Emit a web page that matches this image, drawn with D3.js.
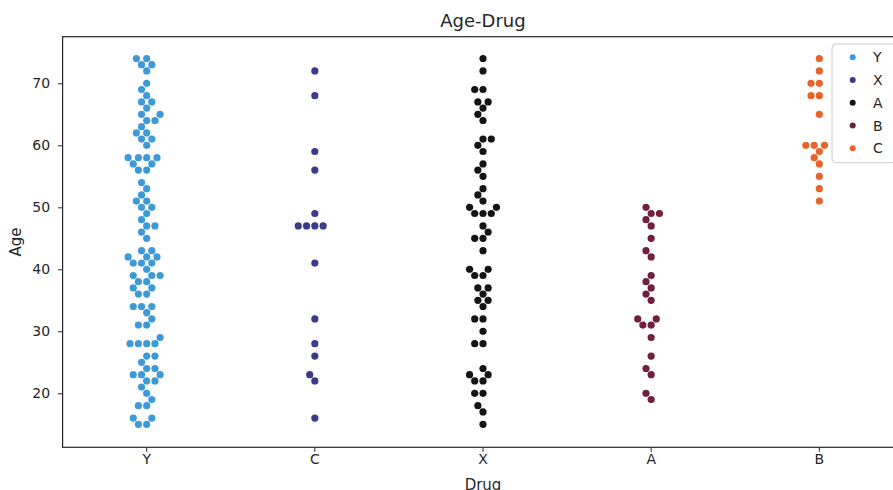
<!DOCTYPE html>
<html>
<head>
<meta charset="utf-8">
<script src="https://cdn.jsdelivr.net/npm/d3@7"></script>
<style>
  html, body { margin: 0; padding: 0; background: #ffffff; }
  text { font-family: "DejaVu Sans", sans-serif; fill: #262626; }
</style>
</head>
<body>
<svg id="chart" width="893" height="490"></svg>
<script>
// Drug categories along the x axis, in plotting order
const drugs = ["Y", "C", "X", "A", "B"];
// Hue legend entries and the palette (icefire, 5 steps)
const legendLabels = ["Y", "X", "A", "B", "C"];
const palette = ["#3e9ad6", "#3d3a8a", "#141414", "#711f3e", "#e8622b"];
const yTickValues = [20, 30, 40, 50, 60, 70];

// Patient ages for each drug group
const agesY = [74, 74, 73, 73, 72, 70, 69, 68, 67, 67, 66, 65, 65, 64, 64, 63, 62, 62, 61, 61,
  60, 58, 58, 58, 58, 57, 57, 56, 56, 54, 53, 52, 51, 51, 50, 50, 49, 48, 47, 47, 46, 45,
  43, 43, 42, 42, 42, 41, 41, 41, 40, 39, 39, 39, 38, 38, 37, 37, 36, 36, 34, 34, 34, 33,
  32, 31, 31, 29, 28, 28, 28, 28, 26, 26, 25, 24, 24, 23, 23, 23, 22, 22, 21, 20, 19, 18,
  18, 16, 16, 15, 15];
const agesC = [72, 68, 59, 56, 49, 47, 47, 47, 47, 41, 32, 28, 26, 23, 22, 16];
const agesX = [74, 72, 69, 69, 67, 67, 66, 65, 64, 61, 61, 60, 59, 57, 56, 55, 53, 52, 51,
  50, 50, 49, 49, 49, 47, 46, 45, 45, 43, 40, 40, 39, 39, 37, 37, 36, 35, 35, 34, 32, 32,
  30, 28, 28, 24, 23, 23, 22, 22, 20, 20, 18, 17, 15];
const agesA = [50, 49, 49, 48, 47, 45, 43, 42, 39, 38, 37, 36, 35, 32, 32, 31, 31, 29, 26,
  24, 23, 20, 19];
const agesB = [74, 72, 70, 70, 68, 68, 65, 60, 60, 60, 59, 58, 57, 55, 53, 51];

const groups = [agesY, agesC, agesX, agesA, agesB];

const svg = d3.select("#chart");

// Plot frame
const frameLeft = 62.6, frameRight = 903.4, frameTop = 36.7, frameBottom = 447.3;

const x = d3.scaleBand().domain(drugs).range([frameLeft, frameRight]).paddingInner(0).paddingOuter(0);
const y = d3.scaleLinear().domain([11.29, 77.52]).range([frameBottom, frameTop]);

// Marker geometry: drawn radius and collision radius used by the swarm layout
const drawR = 3.6;
const hitR = 3.95;

// Beeswarm layout (points sorted by value, each placed at the closest
// non-overlapping candidate position to the category midline)
function swarm(values, mid) {
  const pts = values.map(v => ({ v, x: mid, y: -y(v) }))
    .sort((a, b) => a.y - b.y);
  const placed = [];
  pts.forEach((p, i) => {
    if (i === 0) { placed.push(p); return; }
    const nb = [];
    for (let j = placed.length - 1; j >= 0; j--) {
      if (p.y - placed[j].y < 2 * hitR) nb.unshift(placed[j]);
      else break;
    }
    const cands = [{ x: mid, y: p.y }];
    let leftFirst = true;
    nb.forEach(q => {
      const dy = p.y - q.y;
      const dx = Math.sqrt(Math.max((2 * hitR) ** 2 - dy * dy, 0)) * 1.05;
      const cl = { x: q.x - dx, y: p.y }, cr = { x: q.x + dx, y: p.y };
      if (leftFirst) cands.push(cl, cr); else cands.push(cr, cl);
      leftFirst = !leftFirst;
    });
    const order = cands.map((c, k) => ({ c, k, off: Math.abs(c.x - mid) }))
      .sort((a, b) => (a.off - b.off) || (a.k - b.k));
    let chosen = order[order.length - 1].c;
    for (const o of order) {
      const ok = nb.every(q => {
        const ddx = q.x - o.c.x, ddy = q.y - o.c.y;
        return ddx * ddx + ddy * ddy >= (2 * hitR) ** 2;
      });
      if (ok) { chosen = o.c; break; }
    }
    p.x = chosen.x;
    placed.push(p);
  });
  return placed;
}

// Points
groups.forEach((vals, gi) => {
  const mid = x(drugs[gi]) + x.bandwidth() / 2;
  const laid = swarm(vals, mid);
  svg.append("g")
    .selectAll("circle")
    .data(laid)
    .join("circle")
    .attr("cx", d => d.x)
    .attr("cy", d => y(d.v))
    .attr("r", drawR)
    .attr("fill", palette[gi]);
});

// Axes
const yAxis = d3.axisLeft(y).tickValues(yTickValues).tickSize(4.5).tickPadding(8);
const gy = svg.append("g").attr("transform", `translate(${frameLeft},0)`).call(yAxis);
gy.select(".domain").remove();
gy.selectAll("line").attr("stroke", "#262626").attr("stroke-width", 1);
gy.selectAll("text").attr("font-size", 14).attr("font-family", "DejaVu Sans").attr("fill", "#262626");

const xAxis = d3.axisBottom(x).tickSize(4.5).tickPadding(1.8);
const gx = svg.append("g").attr("transform", `translate(0,${frameBottom})`).call(xAxis);
gx.select(".domain").remove();
gx.selectAll("line").attr("stroke", "#262626").attr("stroke-width", 1);
gx.selectAll("text").attr("font-size", 14).attr("font-family", "DejaVu Sans").attr("fill", "#262626");

// Frame spines
svg.append("rect")
  .attr("x", frameLeft).attr("y", frameTop)
  .attr("width", frameRight - frameLeft).attr("height", frameBottom - frameTop)
  .attr("fill", "none").attr("stroke", "#262626").attr("stroke-width", 1.2);

// Title and axis labels
svg.append("text").attr("x", (frameLeft + frameRight) / 2).attr("y", 26.7)
  .attr("text-anchor", "middle").attr("font-size", 18).text("Age-Drug");
svg.append("text").attr("x", (frameLeft + frameRight) / 2).attr("y", 489.5)
  .attr("text-anchor", "middle").attr("font-size", 15).text("Drug");
svg.append("text").attr("transform", `translate(21,${(frameTop + frameBottom) / 2}) rotate(-90)`)
  .attr("text-anchor", "middle").attr("font-size", 15).text("Age");

// Legend
const lg = svg.append("g");
lg.append("rect").attr("x", 832).attr("y", 44).attr("width", 64).attr("height", 118.7)
  .attr("rx", 4).attr("fill", "#ffffff").attr("fill-opacity", 0.8)
  .attr("stroke", "#cccccc").attr("stroke-width", 1);
const rowY = d3.scalePoint().domain(legendLabels).range([57.3, 148.3]);
legendLabels.forEach((lab, i) => {
  lg.append("circle").attr("cx", 852.7).attr("cy", rowY(lab)).attr("r", 3).attr("fill", palette[i]);
  lg.append("text").attr("x", 873).attr("y", rowY(lab) + 5).attr("font-size", 14).text(lab);
});
</script>
</body>
</html>
